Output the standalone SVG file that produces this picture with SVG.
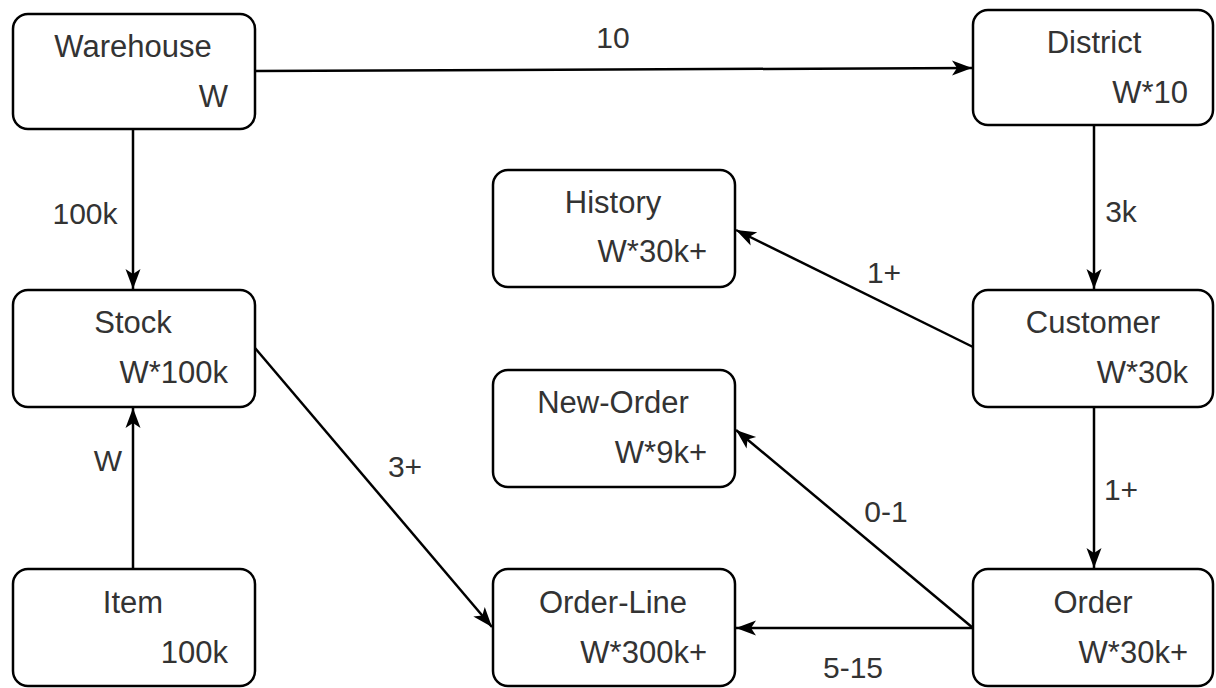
<svg xmlns="http://www.w3.org/2000/svg" width="1216" height="688" viewBox="0 0 1216 688">
<style>
.box{fill:#fff;stroke:#000;stroke-width:2.5}
.t{font-family:"Liberation Sans",Arial,sans-serif;font-size:31px;fill:#333}
.c{text-anchor:middle}
.r{text-anchor:end}
.lbl{font-family:"Liberation Sans",Arial,sans-serif;font-size:30px;fill:#333;text-anchor:middle}
.e{fill:none;stroke:#000;stroke-width:2.5;marker-end:url(#arr)}
</style>
<defs>
<marker id="arr" markerUnits="userSpaceOnUse" markerWidth="22" markerHeight="18" viewBox="0 0 22 18" refX="21" refY="9" orient="auto">
<path d="M1,1.5 L21,9 L1,16.5 L6,9 Z" fill="#000"/>
</marker>
</defs>
<rect width="1216" height="688" fill="#fff"/>
<g id="connectors">
<line class="e" x1="255" y1="71" x2="972" y2="68"/>
<line class="e" x1="133" y1="129" x2="133" y2="289"/>
<line class="e" x1="133" y1="569" x2="133" y2="408"/>
<line class="e" x1="1094" y1="125" x2="1094" y2="289"/>
<line class="e" x1="973" y1="347" x2="736" y2="230"/>
<line class="e" x1="1094" y1="407" x2="1094" y2="568"/>
<line class="e" x1="973" y1="628" x2="736" y2="430"/>
<line class="e" x1="973" y1="628" x2="736" y2="628"/>
<line class="e" x1="255" y1="348" x2="492" y2="627"/>
<text class="lbl" x="613" y="48">10</text>
<text class="lbl" x="85" y="224">100k</text>
<text class="lbl" x="108" y="471">W</text>
<text class="lbl" x="1121" y="222">3k</text>
<text class="lbl" x="884" y="283">1+</text>
<text class="lbl" x="1121" y="500">1+</text>
<text class="lbl" x="886" y="522">0-1</text>
<text class="lbl" x="853" y="678">5-15</text>
<text class="lbl" x="405" y="477">3+</text>
</g>
<g id="warehouse">
<rect class="box" x="13" y="14" width="242" height="115" rx="15"/>
<text class="t c" x="133" y="57">Warehouse</text>
<text class="t r" x="228" y="107">W</text>
</g>
<g id="district">
<rect class="box" x="973" y="10" width="240" height="115" rx="15"/>
<text class="t c" x="1094" y="53">District</text>
<text class="t r" x="1188" y="103">W*10</text>
</g>
<g id="history">
<rect class="box" x="493" y="170" width="242" height="117" rx="15"/>
<text class="t c" x="613" y="213">History</text>
<text class="t r" x="707" y="262">W*30k+</text>
</g>
<g id="stock">
<rect class="box" x="13" y="290" width="242" height="117" rx="15"/>
<text class="t c" x="133" y="333">Stock</text>
<text class="t r" x="228" y="383">W*100k</text>
</g>
<g id="customer">
<rect class="box" x="973" y="290" width="240" height="117" rx="15"/>
<text class="t c" x="1093" y="333">Customer</text>
<text class="t r" x="1188" y="383">W*30k</text>
</g>
<g id="new-order">
<rect class="box" x="493" y="370" width="242" height="117" rx="15"/>
<text class="t c" x="613" y="413">New-Order</text>
<text class="t r" x="707" y="463">W*9k+</text>
</g>
<g id="item">
<rect class="box" x="13" y="569" width="242" height="117" rx="15"/>
<text class="t c" x="133" y="613">Item</text>
<text class="t r" x="228" y="663">100k</text>
</g>
<g id="order-line">
<rect class="box" x="493" y="569" width="242" height="117" rx="15"/>
<text class="t c" x="613" y="613">Order-Line</text>
<text class="t r" x="707" y="663">W*300k+</text>
</g>
<g id="order">
<rect class="box" x="973" y="569" width="240" height="117" rx="15"/>
<text class="t c" x="1093" y="613">Order</text>
<text class="t r" x="1188" y="663">W*30k+</text>
</g>
</svg>
